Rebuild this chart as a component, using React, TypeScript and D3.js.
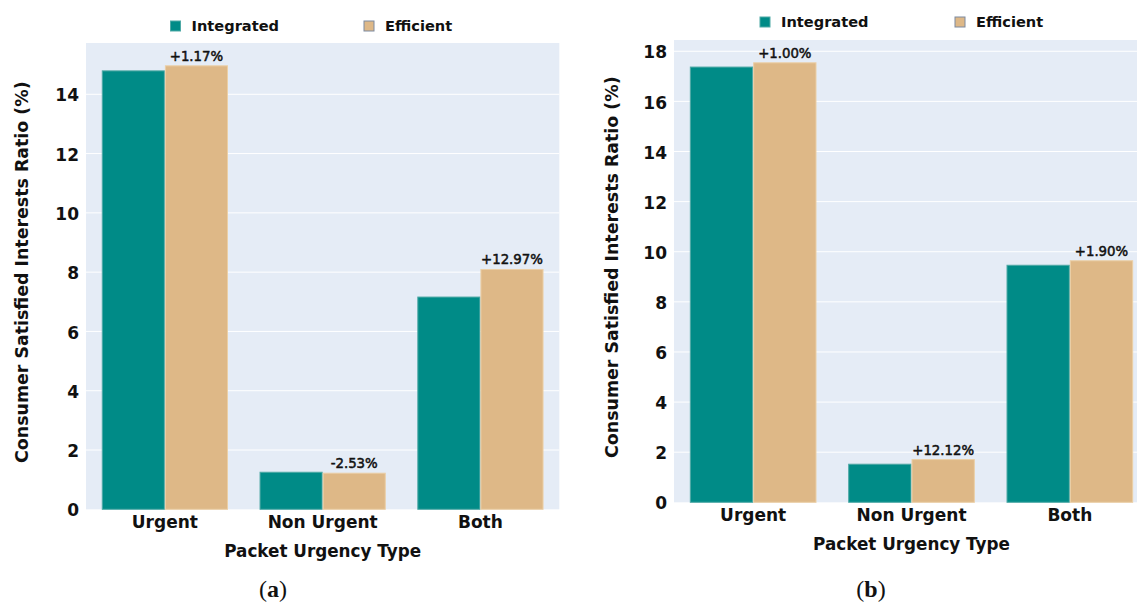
import React from "react";
import * as d3 from "d3";

// Categories and series values (percent of consumer interests satisfied)
const categories = ["Urgent", "Non Urgent", "Both"];
const seriesNames = ["Integrated", "Efficient"];

const integratedA = [14.79, 1.25, 7.16];
const efficientA = [14.96, 1.218, 8.09];
const changeLabelsA = ["+1.17%", "-2.53%", "+12.97%"];
const yTicksA = [0, 2, 4, 6, 8, 10, 12, 14];

const integratedB = [17.37, 1.52, 9.46];
const efficientB = [17.54, 1.705, 9.64];
const changeLabelsB = ["+1.00%", "+12.12%", "+1.90%"];
const yTicksB = [0, 2, 4, 6, 8, 10, 12, 14, 16, 18];

const COLORS = ["#008B87", "#DEB887"];
const EDGES = ["#4FA9A6", "#EBCFA6"];
const BG = "#E5ECF6";
const FONT = "'DejaVu Sans', Verdana, sans-serif";

type PanelProps = {
  left: number;
  right: number;
  top: number;
  bottom: number;
  yMax: number;
  ticks: number[];
  integrated: number[];
  efficient: number[];
  changes: string[];
  legendY: number;
  legendX: [number, number];
  caption: string;
  captionX: number;
  yTitleX: number;
};

function Panel(p: PanelProps) {
  const x = d3
    .scaleBand<string>()
    .domain(categories)
    .range([p.left, p.right])
    .paddingInner(0.2)
    .paddingOuter(0.1);
  const inner = d3
    .scaleBand<string>()
    .domain(seriesNames)
    .range([0, x.bandwidth()]);
  const y = d3.scaleLinear().domain([0, p.yMax]).range([p.bottom, p.top]);
  const series = [p.integrated, p.efficient];
  const midY = (p.top + p.bottom) / 2;
  const midX = (p.left + p.right) / 2;

  return (
    <g>
      <rect
        x={p.left}
        y={p.top}
        width={p.right - p.left}
        height={p.bottom - p.top}
        fill={BG}
      />
      {p.ticks.map((t) => (
        <g key={t}>
          {t > 0 && (
            <line
              x1={p.left}
              x2={p.right}
              y1={y(t)}
              y2={y(t)}
              stroke="#ffffff"
              strokeWidth={1}
            />
          )}
          <text
            x={p.left - 7}
            y={y(t) + 1}
            dy="0.36em"
            textAnchor="end"
            fontSize={17}
            fontWeight="bold"
            fontFamily={FONT}
            fill="#111"
          >
            {t}
          </text>
        </g>
      ))}
      {categories.map((c, i) => (
        <g key={c}>
          {series.map((vals, s) => (
            <rect
              key={s}
              x={(x(c) as number) + (inner(seriesNames[s]) as number) + 0.5}
              y={y(vals[i])}
              width={inner.bandwidth() - 1}
              height={y(0) - y(vals[i])}
              fill={COLORS[s]}
              stroke={EDGES[s]}
              strokeWidth={1}
            />
          ))}
          <text
            x={(x(c) as number) + (inner("Efficient") as number) + inner.bandwidth() / 2}
            y={y(p.efficient[i]) - 5}
            textAnchor="middle"
            fontSize={13.3}
            fontFamily={FONT}
            fill="#111"
            stroke="#111"
            strokeWidth={0.5}
          >
            {p.changes[i]}
          </text>
          <text
            x={(x(c) as number) + x.bandwidth() / 2}
            y={p.bottom + 19}
            textAnchor="middle"
            fontSize={17}
            fontWeight="bold"
            fontFamily={FONT}
            fill="#111"
          >
            {c}
          </text>
        </g>
      ))}
      <text
        x={midX}
        y={p.bottom + 48}
        textAnchor="middle"
        fontSize={16.8}
        fontWeight="bold"
        fontFamily={FONT}
        fill="#111"
      >
        Packet Urgency Type
      </text>
      <text
        transform={`translate(${p.yTitleX},${midY - 4}) rotate(-90)`}
        textAnchor="middle"
        fontSize={17.4}
        fontWeight="bold"
        fontFamily={FONT}
        fill="#111"
      >
        Consumer Satisfied Interests Ratio (%)
      </text>
      {seriesNames.map((name, s) => (
        <g key={name}>
          <rect
            x={p.legendX[s]}
            y={p.legendY - 5}
            width={10}
            height={10}
            fill={COLORS[s]}
            stroke={s === 0 ? EDGES[0] : "#7d8aa0"}
            strokeWidth={1}
          />
          <text
            x={p.legendX[s] + 21}
            y={p.legendY}
            dy="0.36em"
            fontSize={14.6}
            fontWeight="bold"
            fontFamily={FONT}
            fill="#111"
          >
            {name}
          </text>
        </g>
      ))}
      <text
        x={p.captionX}
        y={597}
        textAnchor="middle"
        fontSize={24}
        fontFamily="'Liberation Serif', 'DejaVu Serif', serif"
        fill="#111"
      >
        (<tspan fontWeight="bold">{p.caption}</tspan>)
      </text>
    </g>
  );
}

export default function App() {
  return (
    <svg
      width={1137}
      height={604}
      viewBox="0 0 1137 604"
      style={{ position: "absolute", left: 0, top: 0, background: "#fff" }}
    >
      <Panel
        left={86}
        right={559.3}
        top={43}
        bottom={509.3}
        yMax={15.73}
        ticks={yTicksA}
        integrated={integratedA}
        efficient={efficientA}
        changes={changeLabelsA}
        legendY={26}
        legendX={[170.5, 364]}
        caption="a"
        captionX={273}
        yTitleX={28}
      />
      <Panel
        left={674}
        right={1149}
        top={40}
        bottom={502.3}
        yMax={18.45}
        ticks={yTicksB}
        integrated={integratedB}
        efficient={efficientB}
        changes={changeLabelsB}
        legendY={22}
        legendX={[760, 955]}
        caption="b"
        captionX={871}
        yTitleX={618}
      />
    </svg>
  );
}
